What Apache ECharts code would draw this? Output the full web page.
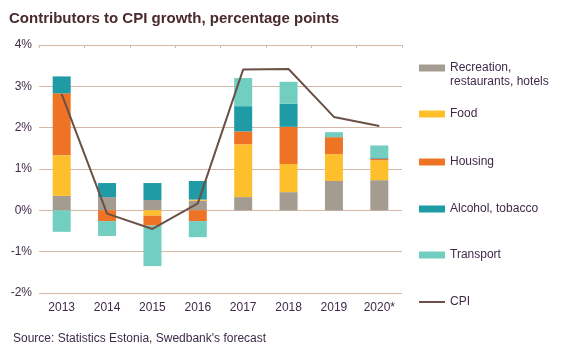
<!DOCTYPE html>
<html>
<head>
<meta charset="utf-8">
<script src="https://cdn.jsdelivr.net/npm/echarts@6/dist/echarts.min.js"></script>
<style>
  html, body { margin: 0; padding: 0; background: #fff; }
  #chart { width: 562px; height: 354px; }
</style>
</head>
<body>
<div id="chart"></div>
<script>
  const years = ['2013', '2014', '2015', '2016', '2017', '2018', '2019', '2020*']
  const recreation = [0.35, 0.32, 0.25, 0.23, 0.32, 0.44, 0.71, 0.73]
  const food = [0.98, 0, -0.13, 0.03, 1.28, 0.68, 0.65, 0.48]
  const housing = [1.50, -0.26, -0.24, -0.26, 0.31, 0.90, 0.41, 0.04]
  const alcohol = [0.41, 0.34, 0.41, 0.45, 0.61, 0.56, 0, 0.03]
  const transport = [-0.52, -0.36, -0.98, -0.39, 0.68, 0.53, 0.12, 0.29]
  const cpi = [2.81, -0.08, -0.45, 0.17, 3.41, 3.42, 2.26, 2.04]

  const txt = '#3f2a4a'
  const grid = '#d5b9a6'
  const font = 'Liberation Sans, Arial, sans-serif'

  const barNames = ['Recreation, restaurants, hotels', 'Food', 'Housing', 'Alcohol, tobacco', 'Transport']
  const barData = [recreation, food, housing, alcohol, transport]
  const barColors = ['#a49c90', '#fdc02c', '#ee7324', '#1f9ba6', '#72cec0']
  // top of each legend box
  const legendTops = [47, 107, 155, 202, 248, 295]

  let chart = echarts.init(document.getElementById('chart'))

  const series = barNames.map((name, i) => ({
    name: name,
    type: 'bar',
    stack: 'total',
    barWidth: 18,
    itemStyle: { color: barColors[i] },
    data: barData[i]
  }))
  series.push({
    name: 'CPI',
    type: 'line',
    symbol: 'none',
    lineStyle: { color: '#6b5046', width: 2 },
    itemStyle: { color: '#6b5046' },
    data: cpi
  })

  const legends = barNames.concat(['CPI']).map((name, i) => ({
    data: [name],
    left: 419,
    top: legendTops[i],
    padding: 0,
    icon: 'rect',
    itemWidth: 26,
    itemHeight: i === 5 ? 2 : 7,
    formatter: n => n === barNames[0] ? ' \nRecreation,\nrestaurants, hotels' : n,
    textStyle: { color: txt, fontFamily: font, fontSize: 12, lineHeight: 14 }
  }))

  const option = {
    animation: false,
    title: {
      text: 'Contributors to CPI growth, percentage points',
      left: 4, top: 6,
      textStyle: { color: '#4a2a2e', fontFamily: font, fontSize: 15, fontWeight: 'bold' }
    },
    graphic: [{
      type: 'text', left: 13, top: 333,
      style: { text: "Source: Statistics Estonia, Swedbank's forecast", fill: txt, font: '12px ' + font }
    }],
    legend: legends,
    grid: { left: 39, right: 160, top: 45, bottom: 61 },
    xAxis: [{
      type: 'category',
      data: years,
      position: 'bottom',
      axisLine: { show: false },
      axisTick: { show: false },
      axisLabel: { color: txt, fontFamily: font, fontSize: 12, margin: 9 }
    }, {
      type: 'category',
      data: years,
      position: 'top',
      axisLine: { onZero: true, lineStyle: { color: grid } },
      axisTick: { show: true, inside: true, length: 3, lineStyle: { color: grid } },
      axisLabel: { show: false }
    }],
    yAxis: {
      type: 'value',
      min: -2, max: 4, interval: 1,
      axisLabel: { formatter: '{value}%', color: txt, fontFamily: font, fontSize: 12, margin: 7 },
      splitLine: { lineStyle: { color: grid, width: 1 } },
      axisLine: { show: false },
      axisTick: { show: false }
    },
    series: series
  }
  chart.setOption(option)
</script>
</body>
</html>
